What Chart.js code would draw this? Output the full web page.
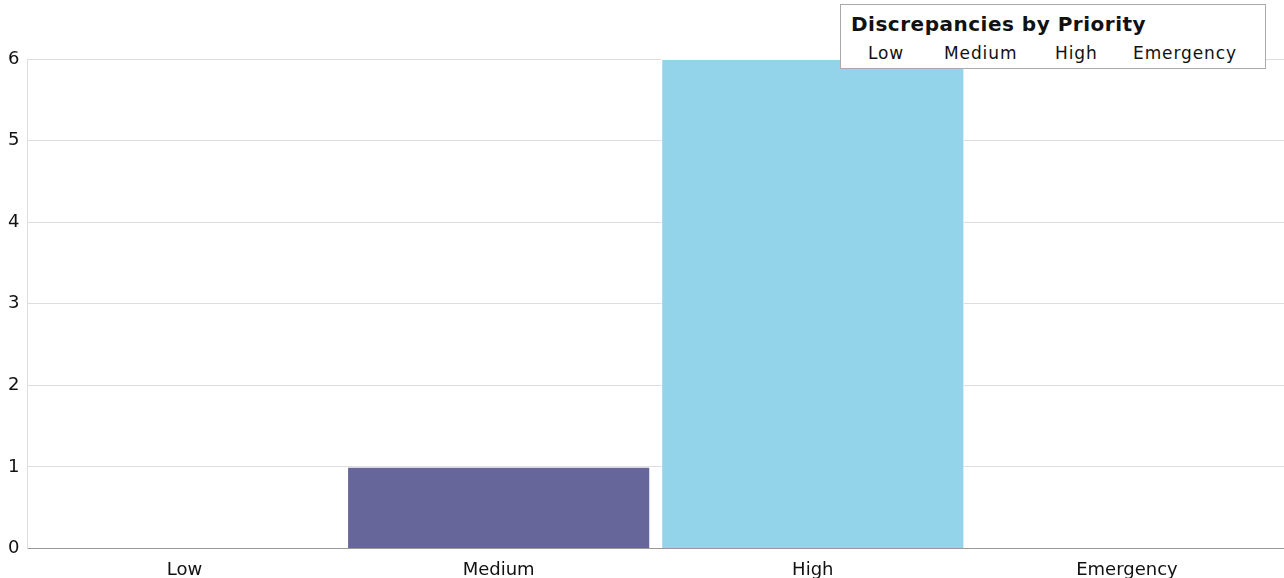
<!DOCTYPE html>
<html>
<head>
<meta charset="utf-8">
<script src="https://cdn.jsdelivr.net/npm/chart.js@4"></script>
<style>
  html, body { margin: 0; padding: 0; background: #fff; }
  #wrap { position: relative; width: 1284px; height: 578px; overflow: hidden; }
  #legendBox {
    position: absolute; left: 840px; top: 4px; width: 426px; height: 65px;
    border: 1px solid #aaa; background: #fff; box-sizing: border-box; overflow: hidden;
    font-family: "DejaVu Sans", Verdana, sans-serif; color: #111;
  }
  #legendBox .ttl { position: absolute; left: 10px; top: 9px; font-size: 20px; line-height: 20px;
    font-weight: bold; letter-spacing: 0.5px; white-space: nowrap; }
  #legendBox .item { position: absolute; top: 40px; font-size: 17px; line-height: 17px;
    letter-spacing: 0.9px; white-space: nowrap; }
</style>
</head>
<body>
<div id="wrap">
  <canvas id="chart" width="1284" height="578"></canvas>
  <div id="legendBox">
    <div class="ttl">Discrepancies by Priority</div>
  </div>
</div>
<script>
const priorities = ['Low', 'Medium', 'High', 'Emergency'];
const counts = [0, 1, 6, 0];
const barColors = ['#5b9bd5', '#66669a', '#93d4ea', '#e07b39'];
const legendX = [27, 103, 214, 292];

// legend labels (no swatches in the original)
const box = document.getElementById('legendBox');
priorities.forEach((p, i) => {
  const s = document.createElement('div');
  s.className = 'item';
  s.style.left = legendX[i] + 'px';
  s.textContent = p;
  box.appendChild(s);
});

new Chart(document.getElementById('chart'), {
  type: 'bar',
  data: {
    labels: priorities,
    datasets: [{
      label: 'Discrepancies by Priority',
      data: counts,
      backgroundColor: barColors,
      borderColor: '#ffffff',
      borderWidth: 1,
      barPercentage: 0.965,
      categoryPercentage: 1
    }]
  },
  options: {
    responsive: false,
    animation: false,
    layout: { padding: { top: 59, right: 0, left: 0, bottom: -6 } },
    plugins: { legend: { display: false }, tooltip: { enabled: false } },
    scales: {
      x: {
        grid: { display: false },
        border: { color: '#999', width: 1 },
        ticks: { color: '#111', font: { family: 'DejaVu Sans', size: 18 }, padding: 3 }
      },
      y: {
        min: 0, max: 6,
        ticks: { stepSize: 1, color: '#111', font: { family: 'DejaVu Sans', size: 18 }, padding: 8 },
        grid: { color: '#dddddd', drawTicks: false },
        border: { color: '#dddddd' }
      }
    }
  }
});
</script>
</body>
</html>
